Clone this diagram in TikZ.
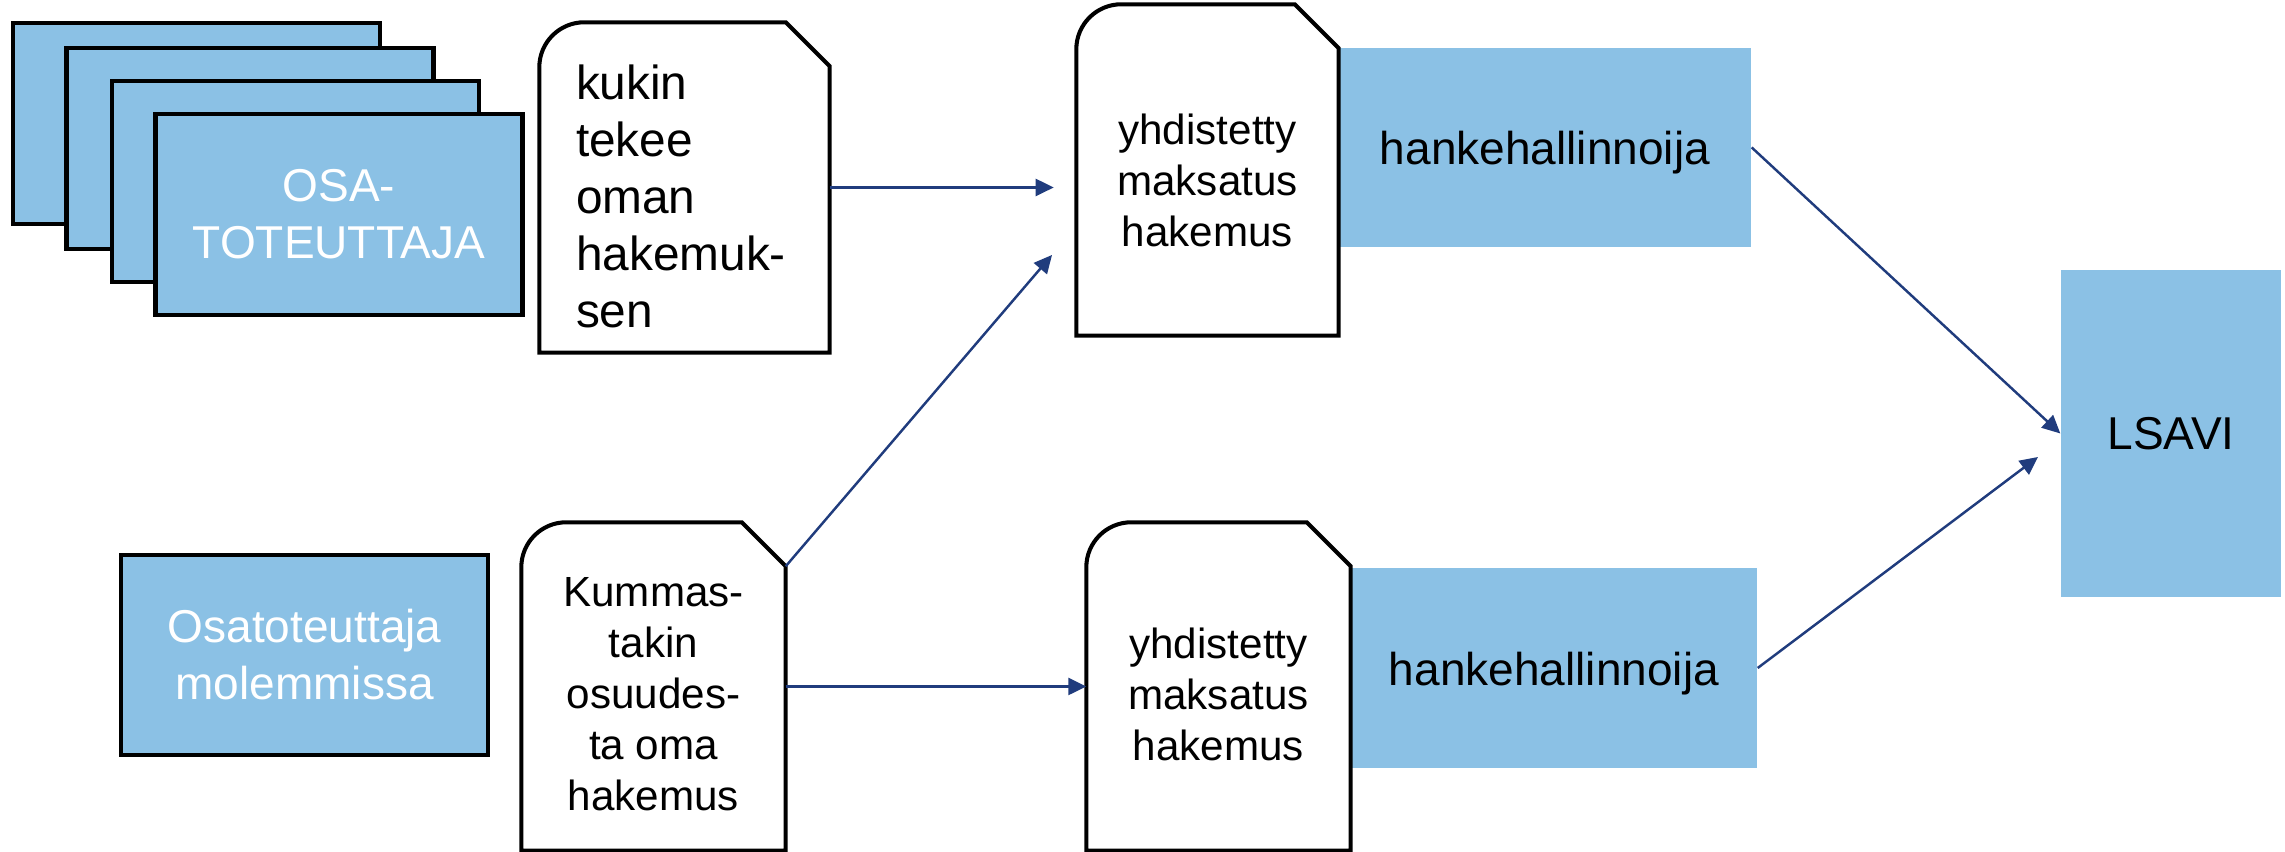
\documentclass[tikz,border=0pt]{standalone}
\usepackage{fontspec}
\setmainfont{Liberation Sans}
\usepackage{xcolor}
\usepackage{tikz}
\usetikzlibrary{arrows.meta, positioning}
\definecolor{paleblue}{RGB}{139,193,229}
\definecolor{arrowblue}{RGB}{32,60,125}
\newcommand{\bigtxt}{\fontsize{13.1}{16.2}\selectfont}
\newcommand{\listtxt}{\fontsize{13.6}{16.2}\selectfont}
\newcommand{\doctxt}{\fontsize{12}{14.5}\selectfont}
\tikzstyle{arrow} = [line width=0.7pt, color=arrowblue, -{Triangle[length=1.8mm,width=1.7mm]}]
\tikzstyle{card} = [rectangle, draw=black, line width=1.15pt, fill=paleblue, minimum width=36.7mm, minimum height=20.1mm, inner sep=0pt, font=\bigtxt]
\tikzstyle{bluebox} = [rectangle, fill=paleblue, inner sep=0pt, font=\bigtxt]
\tikzstyle{doc} = [rectangle, inner sep=0pt, minimum width=26.3mm, minimum height=32.7mm]
\tikzstyle{doctext} = [inner sep=0pt, font=\doctxt]
\tikzstyle{docline} = [draw=black, line width=1.15pt]
\tikzset{every node/.style={align=center}}
\newcommand{\docframe}[1]{%
  \draw [docline] (#1.south west) -- ([yshift=-4.5mm]#1.north west)
    arc [start angle=180, end angle=90, radius=4.5mm] -- ([xshift=-4.4mm]#1.north east)
    -- ([yshift=-4.4mm]#1.north east) -- (#1.south east) -- cycle;}

\begin{document}
\begin{tikzpicture}[x=0.1mm, y=0.1mm]
    \useasboundingbox (0,0) rectangle (2285,852);

    \foreach \cx/\cy [count=\i] in {196.5/728, 250/703.5, 295.5/670}
        \node (osa\i) [card] at (\cx,\cy) {};
    \node (osa4) [card, text=white] at (339,637.5) {OSA-\\TOTEUTTAJA};
    \node (both) [card, minimum height=20mm, text=white] at (304.5,197) {Osatoteuttaja\\molemmissa};

    \node (hh1) [bluebox, minimum width=41.2mm, minimum height=19.9mm, text height=4mm, text depth=0.5mm] at (1545,704.5) {hankehallinnoija};
    \node (hh2) [bluebox, minimum width=40.6mm, minimum height=20mm, text height=4mm, text depth=0.5mm] at (1554,184) {hankehallinnoija};
    \node (lsavi) [bluebox, minimum width=22mm, minimum height=32.7mm] at (2171,418.5) {LSAVI};

    \node (doc1) [doc, minimum width=28.9mm, minimum height=32.9mm] at (684.5,664.5) {};
    \node (doc2) [doc, minimum width=26.1mm, minimum height=33mm] at (1207.5,682) {};
    \node (doc3) [doc] at (1218.5,165.5) {};
    \node (doc4) [doc] at (653.5,165.5) {};
    \docframe{doc1}
    \docframe{doc2}
    \docframe{doc3}
    \docframe{doc4}

    \node (doc1txt) [doctext, text width=21.7mm, align=left, font=\listtxt] at ([yshift=-0.9mm]doc1.center) {kukin\\tekee\\oman\\hakemuk-\\sen};
    \node (doc2txt) [doctext] at ([yshift=-1mm]doc2.center) {yhdistetty\\maksatus\\hakemus};
    \node (doc3txt) [doctext] at ([yshift=-0.8mm]doc3.center) {yhdistetty\\maksatus\\hakemus};
    \node (doc4txt) [doctext] at ([yshift=-0.8mm]doc4.center) {Kummas-\\takin\\osuudes-\\ta oma\\hakemus};

    \coordinate [right=22.4mm of doc1.east] (tip1);
    \coordinate (tip2) at (1052,597);
    \coordinate (tip5) at (2038,395);

    \draw [arrow] (doc1.east) -- (tip1);
    \draw [arrow] ([yshift=-4.4mm]doc4.north east) -- (tip2);
    \draw [arrow] (doc4.east) -- (doc3.west);
    \draw [arrow] (hh1.east) -- (lsavi.west);
    \draw [arrow] (hh2.east) -- (tip5);
\end{tikzpicture}
\end{document}
